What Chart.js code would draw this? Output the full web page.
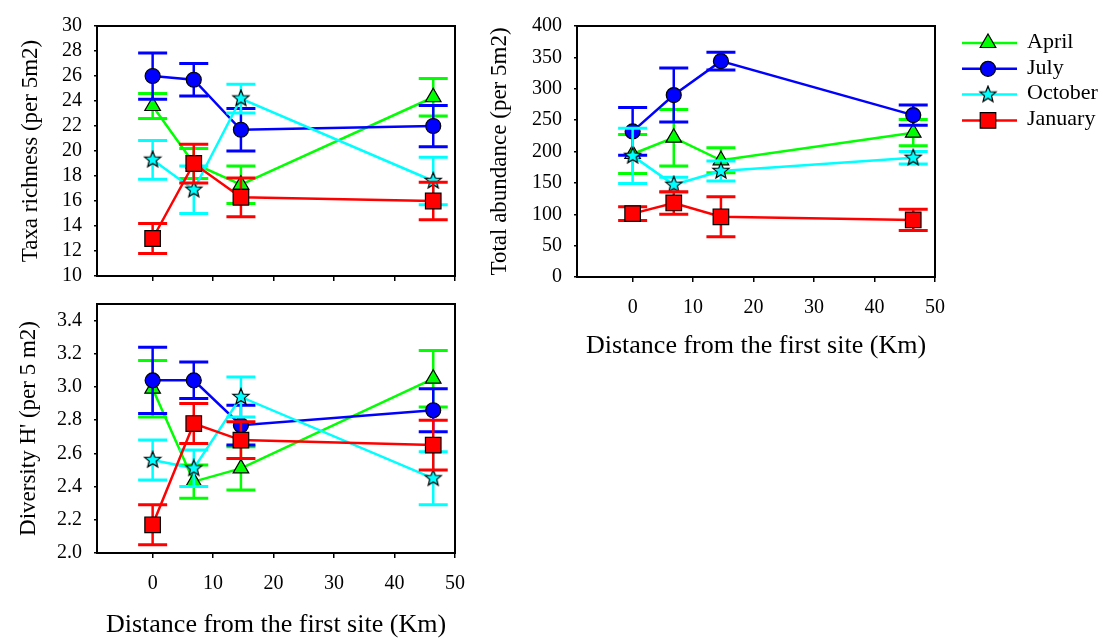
<!DOCTYPE html>
<html>
<head>
<meta charset="utf-8">
<script src="https://cdn.jsdelivr.net/npm/chart.js@4.4.1/dist/chart.umd.min.js"></script>
<style>
  html, body { margin: 0; padding: 0; background: #fff; }
  body { width: 1102px; height: 641px; position: relative; overflow: hidden; }
  canvas { position: absolute; }
  #taxaChart { left: 0; top: 0; width: 480px; height: 300px; }
  #abundChart { left: 480px; top: 0; width: 622px; height: 370px; }
  #divChart { left: 0; top: 280px; width: 480px; height: 361px; }
</style>
</head>
<body>
<canvas id="taxaChart" width="480" height="300"></canvas>
<canvas id="abundChart" width="622" height="370"></canvas>
<canvas id="divChart" width="480" height="361"></canvas>
<script>
// sampling sites, km from the first site
const distances = [0, 6.8, 14.6, 46.4];
const distanceTicks = [0, 10, 20, 30, 40, 50];
const seasons = ['April', 'July', 'October', 'January'];
const seasonColors = ['#00ff00', '#0000ff', '#00ffff', '#ff0000'];

// taxa richness (per 5m2), mean and error
const taxaApril = [23.6, 19.0, 17.3, 24.3];
const taxaAprilErr = [1.0, 1.2, 1.5, 1.5];
const taxaJuly = [26.0, 25.7, 21.7, 22.0];
const taxaJulyErr = [1.85, 1.3, 1.7, 1.65];
const taxaOctober = [19.3, 16.9, 24.2, 17.6];
const taxaOctoberErr = [1.55, 1.9, 1.15, 1.9];
const taxaJanuary = [13.0, 19.0, 16.3, 16.0];
const taxaJanuaryErr = [1.2, 1.55, 1.55, 1.5];
const taxaTicks = [10, 12, 14, 16, 18, 20, 22, 24, 26, 28, 30];

// total abundance (per 5m2)
const abundApril = [196, 222, 186, 230];
const abundAprilErr = [31, 45, 20, 21];
const abundJuly = [232, 290, 344, 258];
const abundJulyErr = [38, 43, 14, 16];
const abundOctober = [193, 147, 169, 190];
const abundOctoberErr = [44, 12, 16, 10];
const abundJanuary = [101, 118, 96, 91];
const abundJanuaryErr = [11, 18, 32, 17];
const abundTicks = [0, 50, 100, 150, 200, 250, 300, 350, 400];

// diversity H'
const divApril = [2.99, 2.43, 2.51, 3.05];
const divAprilErr = [0.17, 0.10, 0.13, 0.17];
const divJuly = [3.04, 3.04, 2.77, 2.86];
const divJulyErr = [0.20, 0.11, 0.12, 0.13];
const divOctober = [2.56, 2.51, 2.94, 2.45];
const divOctoberErr = [0.12, 0.11, 0.12, 0.16];
const divJanuary = [2.17, 2.78, 2.68, 2.65];
const divJanuaryErr = [0.12, 0.12, 0.11, 0.15];
const divTicks = [2.0, 2.2, 2.4, 2.6, 2.8, 3.0, 3.2, 3.4];

Chart.defaults.font.family = "'Liberation Serif', 'Times New Roman', serif";
Chart.defaults.color = '#000';

function makeStar(outer, inner, fill) {
    const c = document.createElement('canvas');
    const s = Math.ceil(outer * 2 + 3);
    c.width = s;
    c.height = s;
    const g = c.getContext('2d');
    g.beginPath();
    for (let k = 0; k < 10; k++) {
        const r = k % 2 ? inner : outer;
        const a = -Math.PI / 2 + k * Math.PI / 5;
        g.lineTo(s / 2 + r * Math.cos(a), s / 2 + r * Math.sin(a));
    }
    g.closePath();
    g.fillStyle = fill;
    g.fill();
    g.lineWidth = 1.2;
    g.strokeStyle = '#000';
    g.stroke();
    return c;
}

const starMarker = makeStar(8.5, 3.7, '#00ffff');
const markerStyles = ['triangle', 'circle', starMarker, 'rect'];
const markerRadii = [9, 7.5, 9, 11];
const drawOrder = [3, 2, 1, 0];

function buildDatasets(series, errors) {
    return series.map((vals, i) => ({
        label: seasons[i],
        data: distances.map((d, j) => ({ x: d, y: vals[j] })),
        errors: errors[i],
        borderColor: seasonColors[i],
        backgroundColor: seasonColors[i],
        borderWidth: 2.5,
        pointStyle: markerStyles[i],
        pointRadius: markerRadii[i],
        pointHoverRadius: markerRadii[i],
        pointBackgroundColor: seasonColors[i],
        pointBorderColor: '#000',
        pointBorderWidth: 1.2,
        tension: 0,
        order: drawOrder[i]
    }));
}

const errorBars = {
    id: 'errorBars',
    beforeDatasetDraw(chart, args) {
        const ds = chart.data.datasets[args.index];
        if (!ds.errors) return;
        const xs = chart.scales.x;
        const ys = chart.scales.y;
        const ctx = chart.ctx;
        ctx.save();
        ctx.strokeStyle = ds.borderColor;
        ds.data.forEach((p, i) => {
            const px = xs.getPixelForValue(p.x);
            const top = ys.getPixelForValue(p.y + ds.errors[i]);
            const bot = ys.getPixelForValue(p.y - ds.errors[i]);
            ctx.lineWidth = 2.5;
            ctx.beginPath();
            ctx.moveTo(px, top);
            ctx.lineTo(px, bot);
            ctx.stroke();
            ctx.lineWidth = 3;
            ctx.beginPath();
            ctx.moveTo(px - 14.5, top);
            ctx.lineTo(px + 14.5, top);
            ctx.moveTo(px - 14.5, bot);
            ctx.lineTo(px + 14.5, bot);
            ctx.stroke();
        });
        ctx.restore();
    }
};

const frameBox = {
    id: 'frameBox',
    beforeDatasetsDraw(chart) {
        const a = chart.chartArea;
        const ctx = chart.ctx;
        ctx.save();
        ctx.strokeStyle = '#000';
        ctx.lineWidth = 2;
        ctx.strokeRect(a.left, a.top, a.right - a.left, a.bottom - a.top);
        ctx.restore();
    }
};

const sideLegend = {
    id: 'sideLegend',
    afterDraw(chart) {
        const ctx = chart.ctx;
        const a = chart.chartArea;
        ctx.save();
        chart.data.datasets.forEach((ds, i) => {
            const y = a.top + 17 + i * 25.8;
            ctx.strokeStyle = ds.borderColor;
            ctx.lineWidth = 2.5;
            ctx.beginPath();
            ctx.moveTo(a.right + 27, y);
            ctx.lineTo(a.right + 82, y);
            ctx.stroke();
            ctx.fillStyle = ds.pointBackgroundColor;
            ctx.strokeStyle = '#000';
            ctx.lineWidth = 1.2;
            Chart.helpers.drawPoint(ctx, {
                pointStyle: ds.pointStyle,
                radius: ds.pointRadius,
                borderWidth: 1.2,
                rotation: 0
            }, a.right + 53, y);
            ctx.fillStyle = '#000';
            ctx.font = "22px 'Liberation Serif'";
            ctx.textAlign = 'left';
            ctx.textBaseline = 'middle';
            ctx.fillText(ds.label, a.right + 92, y - 1);
        });
        ctx.restore();
    }
};

function makePanel(id, cfg) {
    return new Chart(document.getElementById(id), {
        type: 'line',
        data: { datasets: buildDatasets(cfg.series, cfg.errors) },
        options: {
            responsive: false,
            animation: false,
            events: [],
            layout: { autoPadding: false, padding: cfg.padding },
            plugins: { legend: { display: false }, tooltip: { enabled: false } },
            scales: {
                x: {
                    type: 'linear',
                    min: -9.2,
                    max: 50,
                    afterBuildTicks: s => { s.ticks = distanceTicks.map(v => ({ value: v })); },
                    afterFit: s => { s.height = cfg.xHeight; },
                    ticks: { display: cfg.xLabels, font: { size: 20 }, padding: 14, maxRotation: 0, autoSkip: false },
                    grid: { drawOnChartArea: false, tickLength: 5, color: '#000', lineWidth: 1.5 },
                    border: { color: '#000', width: 2 },
                    title: {
                        display: cfg.xLabels,
                        text: 'Distance from the first site (Km)',
                        font: { size: 26 },
                        padding: { top: 0, bottom: cfg.xTitlePad }
                    }
                },
                y: {
                    type: 'linear',
                    min: cfg.yMin,
                    max: cfg.yMax,
                    afterBuildTicks: s => { s.ticks = cfg.yTicks.map(v => ({ value: v })); },
                    afterFit: s => { s.width = 97; },
                    ticks: { font: { size: 20 }, padding: 12, autoSkip: false, callback: v => v.toFixed(cfg.decimals) },
                    grid: { drawOnChartArea: false, tickLength: 3, color: '#000', lineWidth: 1.5 },
                    border: { color: '#000', width: 2 },
                    title: {
                        display: true,
                        text: cfg.yTitle,
                        font: { size: 23 },
                        padding: { top: cfg.yTitlePad, bottom: 0 }
                    }
                }
            }
        },
        plugins: cfg.plugins
    });
}

makePanel('taxaChart', {
    series: [taxaApril, taxaJuly, taxaOctober, taxaJanuary],
    errors: [taxaAprilErr, taxaJulyErr, taxaOctoberErr, taxaJanuaryErr],
    yMin: 10, yMax: 30, yTicks: taxaTicks, decimals: 0,
    yTitle: 'Taxa richness (per 5m2)', yTitlePad: 17,
    padding: { top: 26, right: 25, bottom: 0, left: 0 },
    xHeight: 23, xLabels: false, xTitlePad: 0,
    plugins: [frameBox, errorBars]
});

makePanel('abundChart', {
    series: [abundApril, abundJuly, abundOctober, abundJanuary],
    errors: [abundAprilErr, abundJulyErr, abundOctoberErr, abundJanuaryErr],
    yMin: 0, yMax: 400, yTicks: abundTicks, decimals: 0,
    yTitle: 'Total abundance (per 5m2)', yTitlePad: 6,
    padding: { top: 26, right: 167, bottom: 0, left: 0 },
    xHeight: 93, xLabels: true, xTitlePad: 8,
    plugins: [frameBox, errorBars, sideLegend]
});

makePanel('divChart', {
    series: [divApril, divJuly, divOctober, divJanuary],
    errors: [divAprilErr, divJulyErr, divOctoberErr, divJanuaryErr],
    yMin: 2.0, yMax: 3.5, yTicks: divTicks, decimals: 1,
    yTitle: "Diversity H' (per 5 m2)", yTitlePad: 15,
    padding: { top: 23, right: 25, bottom: 0, left: 0 },
    xHeight: 88, xLabels: true, xTitlePad: 0,
    plugins: [frameBox, errorBars]
});
</script>
</body>
</html>
